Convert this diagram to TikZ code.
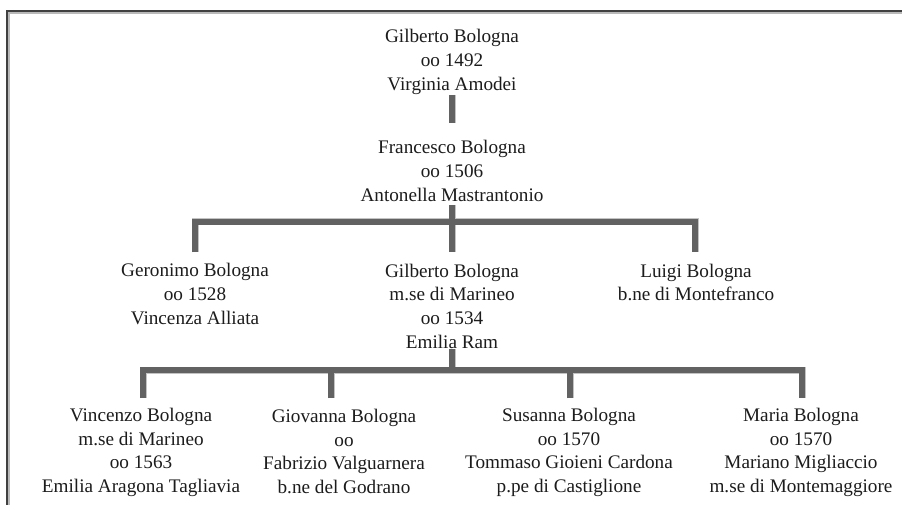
\documentclass[tikz,border=0pt]{standalone}
\usepackage{fontspec}
\setmainfont{Liberation Serif}
\definecolor{txt}{RGB}{28,28,28}
\definecolor{bar}{RGB}{98,98,98}
\definecolor{shad}{RGB}{195,195,195}
\begin{document}
\begin{tikzpicture}[x=1pt,y=-1pt,
  person/.style={align=center,inner sep=0pt,text=txt,font=\fontsize{19.2}{23.7}\selectfont,
    execute at begin node=\strut, execute at end node=\strut},
  connshadow/.style={draw=shad,line width=7pt,line join=miter,line cap=butt},
  conn/.style={draw=bar,line width=5.5pt,line join=miter,line cap=butt}]
\useasboundingbox (0,0) rectangle (902,505);
\fill[white] (0,0) rectangle (902,505);
% frame
\draw[line width=2.2pt,gray!55] (8.5,505) -- (8.5,12.5) -- (902,12.5);
\draw[line width=1.4pt,black!75] (7,505) -- (7,11) -- (902,11);
% persons
\node[person] (g1) at (452,63.5) {Gilberto Bologna\\oo 1492\\Virginia Amodei};
\node[person] (f) at (452,174.5) {Francesco Bologna\\oo 1506\\Antonella Mastrantonio};
\node[person] (ger) at (195,297.5) {Geronimo Bologna\\oo 1528\\Vincenza Alliata};
\node[person] (g2) at (452,309.5) {Gilberto Bologna\\m.se di Marineo\\oo 1534\\Emilia Ram};
\node[person] (lu) at (696,286) {Luigi Bologna\\b.ne di Montefranco};
\node[person] (vi) at (141,454) {Vincenzo Bologna\\m.se di Marineo\\oo 1563\\Emilia Aragona Tagliavia};
\node[person] (gi) at (344,455) {Giovanna Bologna\\oo\\Fabrizio Valguarnera\\b.ne del Godrano};
\node[person] (su) at (569,454) {Susanna Bologna\\oo 1570\\Tommaso Gioieni Cardona\\p.pe di Castiglione};
\node[person] (ma) at (801,454) {Maria Bologna\\oo 1570\\Mariano Migliaccio\\m.se di Montemaggiore};
% connector end points
\coordinate (g1d) at (452,95);
\coordinate (fu) at (452,123);
\coordinate (fd) at (452,205);
\coordinate (b1) at (452,222);
\coordinate (gerU) at (195,252);
\coordinate (g2U) at (452,252);
\coordinate (luU) at (695,252);
\coordinate (g2d) at (452,349);
\coordinate (b2) at (452,370);
\coordinate (viU) at (143,398);
\coordinate (giU) at (331,398);
\coordinate (suU) at (570,398);
\coordinate (maU) at (802,398);
% shadows
\begin{scope}[shift={(1.8,2)}]
\draw[connshadow] (g1d) -- (fu);
\draw[connshadow] (gerU) |- (b1) -| (luU);
\draw[connshadow] (fd) -- (g2U);
\draw[connshadow] (viU) |- (b2) -| (maU);
\draw[connshadow] (g2d) -- (b2);
\draw[connshadow] (giU) -- (giU|-b2);
\draw[connshadow] (suU) -- (suU|-b2);
\end{scope}
% connectors
\draw[conn] (g1d) -- (fu);
\draw[conn] (gerU) |- (b1) -| (luU);
\draw[conn] (fd) -- (g2U);
\draw[conn] (viU) |- (b2) -| (maU);
\draw[conn] (g2d) -- (b2);
\draw[conn] (giU) -- (giU|-b2);
\draw[conn] (suU) -- (suU|-b2);
\end{tikzpicture}
\end{document}
